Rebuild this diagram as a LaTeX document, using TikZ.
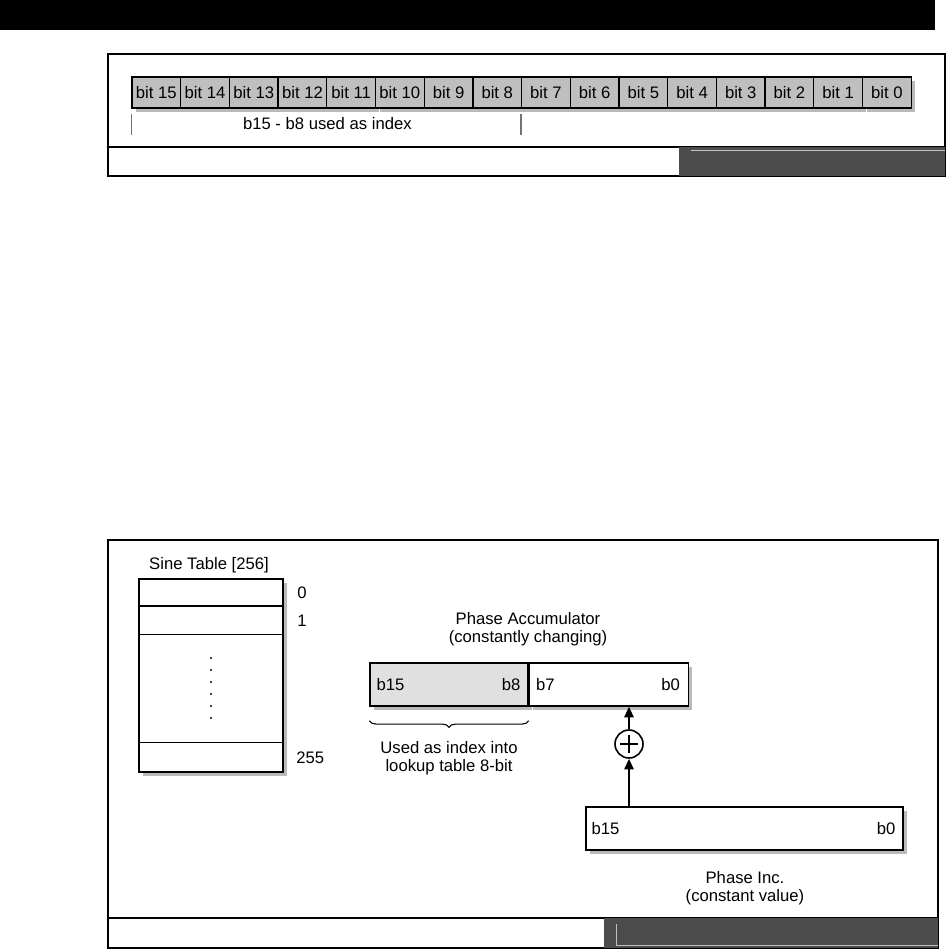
\documentclass[tikz,border=0pt]{standalone}
\usepackage{fontspec}
\setmainfont{Liberation Sans}
\usetikzlibrary{arrows.meta,positioning,shadows,decorations.pathreplacing}

\begin{document}
\begin{tikzpicture}[
  x=0.75pt, y=-0.75pt,
  font=\fontsize{12.5}{13.5}\selectfont,
  bitcell/.style={draw=black, fill=black!25, line width=0.9pt, minimum width=36.5pt, minimum height=23.25pt, inner sep=0pt},
  shade/.style={drop shadow={shadow xshift=3pt, shadow yshift=-3pt, fill=black!45, opacity=0.6}},
  regbox/.style={draw, line width=1.1pt, minimum height=32.25pt, inner sep=0pt},
  frame/.style={draw, line width=1.2pt},
  foot/.style={fill=black!70},
  tick/.style={draw=black!55, line width=1.2pt},
  lbl/.style={inner sep=0pt, align=center},
  adder/.style={draw, circle, line width=1.2pt, minimum size=21pt, inner sep=0pt, fill=white,
    path picture={\draw[line width=0.8pt] ([xshift=-6.5pt]path picture bounding box.center) -- ++(13pt,0pt)
      ([yshift=-6.5pt]path picture bounding box.center) -- ++(0pt,13pt);}},
  arr/.style={-{Triangle[length=8pt,width=7pt]}, line width=1.5pt}
]
\useasboundingbox (0,0) rectangle (946,950);

% title bar
\fill (0,0) rectangle (935,30);

% ---- register layout ----
\draw[frame] (108,54) rectangle (945,176);
\draw[frame] (108,147) -- (945,147);
\fill[foot] (679,147) rectangle (945,176);
\draw[black!25] (691,150) -- (945,150);

\foreach \i in {15,...,0}
  \node[bitcell, shade] (bit\i) at ({156.35+48.7*(15-\i)},92.5) {bit \i};

\draw[tick] ([yshift=-4pt]bit15.south west) -- ++(0,21);
\draw[tick] ([yshift=-4pt]bit7.south west) -- ++(0,21);
\node[lbl] (idx) at ([yshift=-11.25pt]bit12.south east) {b15 - b8 used as index};

% ---- lookup scheme ----
\draw[frame] (108,540) rectangle (938,948);
\draw[frame] (108,918) -- (938,918);
\fill[foot] (604,918) rectangle (938,948);
\draw[black!25] (616,924) -- (616,945) -- (938,945);

% sine table
\node[lbl] (sinelbl) at (209,565) {Sine Table [256]};
\node[draw, line width=1.1pt, fill=white, shade, minimum width=108pt, minimum height=144.75pt, inner sep=0pt] (sine) at (211,675.5) {};
\draw[line width=1.6pt] ([yshift=-21pt]sine.north west) -- ([yshift=-21pt]sine.north east);
\draw[line width=1pt] ([yshift=-42pt]sine.north west) -- ([yshift=-42pt]sine.north east);
\draw[line width=1pt] ([yshift=-123pt]sine.north west) -- ([yshift=-123pt]sine.north east);
\foreach \k in {0,...,5}
  \fill (211,{658+12*\k}) circle (0.9pt);
\node[lbl, anchor=west] (n0) at (297,593) {0};
\node[lbl, anchor=west] (n1) at (297,621) {1};
\node[lbl, anchor=west] (n255) at (296,758) {255};

% phase accumulator
\node[lbl] (acclbl) at (528,629) {Phase Accumulator\\(constantly changing)};
\node[regbox, fill=black!12, shade, minimum width=118.5pt] (accL) at (449,684.5) {};
\node[regbox, fill=white, shade, minimum width=119.25pt, right=0pt of accL] (accR) {};
\node[lbl, anchor=west] (a15) at ([xshift=5.25pt]accL.west) {b15};
\node[lbl, anchor=east] (a8) at ([xshift=-6pt]accL.east) {b8};
\node[lbl, anchor=west] (a7) at ([xshift=5.25pt]accR.west) {b7};
\node[lbl, anchor=east] (a0) at ([xshift=-6.75pt]accR.east) {b0};
\draw[decorate, decoration={brace, mirror, amplitude=5pt}, line width=0.8pt]
  ([yshift=-10.5pt]accL.south west) -- ([yshift=-10.5pt]accL.south east);
\node[lbl] (usedlbl) at (449,758.5) {Used as index into\\lookup table 8-bit};

% adder and increment
\node[adder] (add) at (629,744) {};
\node[regbox, fill=white, shade, minimum width=237.75pt] (inc) at (744.5,828.5) {};
\node[lbl, anchor=west] (i15) at ([xshift=4.5pt]inc.west) {b15};
\node[lbl, anchor=east] (i0) at ([xshift=-6pt]inc.east) {b0};
\node[lbl] (inclbl) at (745,888.5) {Phase Inc.\\(constant value)};

\draw[arr] (inc.north -| add) -- (add.south);
\draw[arr] (add.north) -- (accR.south -| add);
\end{tikzpicture}
\end{document}
